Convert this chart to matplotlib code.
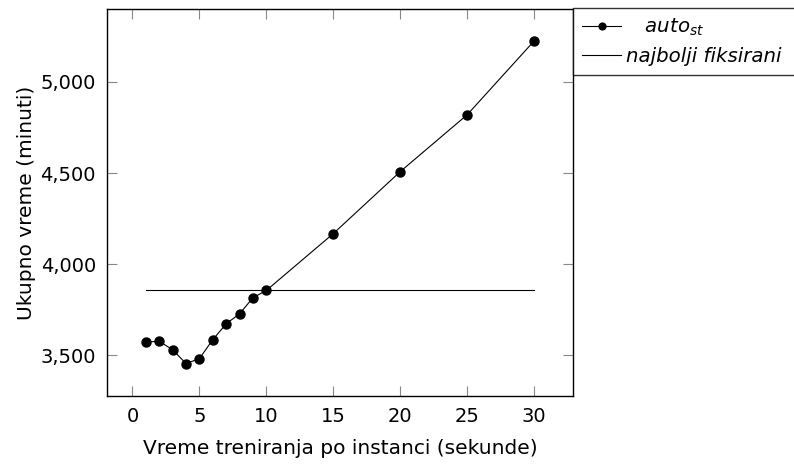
import matplotlib
matplotlib.use("Agg")
import matplotlib.pyplot as plt
from matplotlib.ticker import FuncFormatter

plt.rcParams['font.family'] = ['DejaVu Sans']
plt.rcParams['mathtext.fontset'] = 'dejavusans'

x_vals = [1, 2, 3, 4, 5, 6, 7, 8, 9, 10, 15, 20, 25, 30]
auto_st = [3573, 3577, 3531, 3455, 3482, 3586, 3673, 3728, 3816, 3856, 4168, 4508, 4820, 5225]
fixed_x = [1, 30]
fixed_y = [3860, 3860]
x_ticks = [0, 5, 10, 15, 20, 25, 30]
y_ticks = [3500, 4000, 4500, 5000]

W, H = 794, 466
fig = plt.figure(figsize=(W/100, H/100), dpi=100)
ax = fig.add_axes([107/W, 1-396/H, (573-107)/W, (396-9)/H])

l1, = ax.plot(x_vals, auto_st, color='black', lw=0.8, marker='o', markersize=6.5,
              label=r'$auto_{st}$')
l2, = ax.plot(fixed_x, fixed_y, color='black', lw=0.8, label='najbolji fiksirani')

ax.set_xlim(-1.9, 32.9)
ax.set_ylim(3277, 5400)
ax.set_xticks(x_ticks)
ax.set_yticks(y_ticks)
ax.yaxis.set_major_formatter(FuncFormatter(lambda v, p: f"{int(v):,}"))
ax.tick_params(direction='in', top=True, right=True, length=7, width=0.8,
               color='#888888', labelsize=14, pad=8)
for s in ax.spines.values():
    s.set_linewidth(1.0)

ax.set_xlabel('Vreme treniranja po instanci (sekunde)', fontsize=14.5, labelpad=9)
ax.set_ylabel('Ukupno vreme (minuti)', fontsize=14.5, labelpad=3)

leg = fig.legend(handles=[l1, l2], labels=[r'   $auto_{st}$', 'najbolji fiksirani'],
                 loc='upper left', mode='expand',
                 bbox_to_anchor=(573/W, 1-8/H, 240/W, 0), frameon=True, fancybox=False,
                 edgecolor='black', fontsize=14.2, handlelength=2.0, borderpad=0.45,
                 labelspacing=0.45, handletextpad=0.25, borderaxespad=0, markerscale=0.75)
leg.get_frame().set_linewidth(1.0)
for t in leg.get_texts():
    t.set_style('italic')

fig.savefig('out.png', dpi=100)
